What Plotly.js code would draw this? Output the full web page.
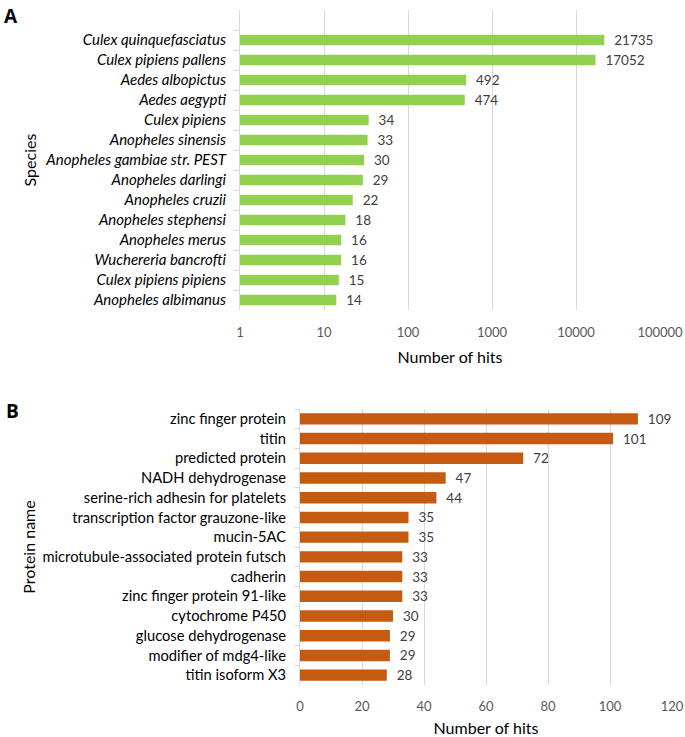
<!DOCTYPE html>
<html>
<head>
<meta charset="utf-8">
<script src="https://cdn.plot.ly/plotly-3.0.1.min.js"></script>
<style>html,body{margin:0;padding:0;background:#fff;}#chart{width:685px;height:737px;}</style>
</head>
<body>
<div id="chart"></div>
<script>
// Panel A data (top to bottom)
const speciesNames = [
  "Culex quinquefasciatus", "Culex pipiens pallens", "Aedes albopictus", "Aedes aegypti",
  "Culex pipiens", "Anopheles sinensis", "Anopheles gambiae str. PEST", "Anopheles darlingi",
  "Anopheles cruzii", "Anopheles stephensi", "Anopheles merus", "Wuchereria bancrofti",
  "Culex pipiens pipiens", "Anopheles albimanus"
];
const speciesHits = [21735, 17052, 492, 474, 34, 33, 30, 29, 22, 18, 16, 16, 15, 14];

// Panel B data (top to bottom)
const proteinNames = [
  "zinc finger protein", "titin", "predicted protein", "NADH dehydrogenase",
  "serine-rich adhesin for platelets", "transcription factor grauzone-like", "mucin-5AC",
  "microtubule-associated protein futsch", "cadherin", "zinc finger protein 91-like",
  "cytochrome P450", "glucose dehydrogenase", "modifier of mdg4-like", "titin isoform X3"
];
const proteinHits = [109, 101, 72, 47, 44, 35, 35, 33, 33, 33, 30, 29, 29, 28];

const logTicks = [1, 10, 100, 1000, 10000, 100000];
const linTicks = [0, 20, 40, 60, 80, 100, 120];

const FONT = "Lato, 'Open Sans', sans-serif";
const W = 685, H = 737;
const GRID = "#d9d9d9";
const PAD = "\u00a0\u00a0";

const spY = speciesNames.slice().reverse();
const spX = speciesHits.slice().reverse();
const prY = proteinNames.slice().reverse();
const prX = proteinHits.slice().reverse();

const traces = [
  {
    type: "bar", orientation: "h", x: spX, y: spY, xaxis: "x", yaxis: "y",
    marker: {color: "#92D050"}, width: 0.52,
    text: spX.map(v => PAD + v), textposition: "outside", cliponaxis: false, constraintext: "none",
    textfont: {family: FONT, size: 13.5, color: "#404040"},
    hoverinfo: "x+y"
  },
  {
    type: "bar", orientation: "h", x: prX, y: prY, xaxis: "x2", yaxis: "y2",
    marker: {color: "#C55A11"}, width: 0.58,
    text: prX.map(v => PAD + v), textposition: "outside", cliponaxis: false, constraintext: "none",
    textfont: {family: FONT, size: 13.5, color: "#404040"},
    hoverinfo: "x+y"
  }
];

const layout = {
  width: W, height: H,
  margin: {l: 0, r: 0, t: 0, b: 0},
  paper_bgcolor: "#fff", plot_bgcolor: "#fff",
  showlegend: false,
  font: {family: FONT, size: 14, color: "#000"},
  xaxis: {
    type: "log", domain: [240 / W, 660 / W], range: [0, 5], anchor: "y",
    tickvals: logTicks, ticktext: logTicks.map(String),
    showgrid: true, gridcolor: GRID, gridwidth: 1, zeroline: false, showline: false,
    ticks: "", ticklabelstandoff: 13, tickfont: {family: FONT, size: 13, color: "#595959"},
    title: {text: "Number of hits", font: {family: FONT, size: 16, color: "#000"}, standoff: 12}
  },
  yaxis: {
    type: "category", domain: [1 - 310 / H, 1 - 10 / H], anchor: "x",
    categoryorder: "array", categoryarray: spY, range: [-0.5, 14.5],
    tickson: "boundaries", ticks: "outside", ticklen: 5, tickcolor: GRID,
    showline: true, linecolor: GRID, linewidth: 1, showgrid: false,
    ticklabelstandoff: 10,
    tickfont: {family: FONT, size: 15, color: "#000", style: "italic"},
    title: {text: "Species", font: {family: FONT, size: 16, color: "#000"}, standoff: 4}
  },
  xaxis2: {
    type: "linear", domain: [300 / W, 672 / W], range: [0, 120], anchor: "y2",
    tickvals: linTicks, showgrid: true, gridcolor: GRID, gridwidth: 1, zeroline: false, showline: false,
    ticks: "", ticklabelstandoff: 12, tickfont: {family: FONT, size: 13, color: "#595959"},
    title: {text: "Number of hits", font: {family: FONT, size: 16, color: "#000"}, standoff: 13}
  },
  yaxis2: {
    type: "category", domain: [1 - 685 / H, 1 - 409 / H], anchor: "x2",
    categoryorder: "array", categoryarray: prY, range: [-0.5, 13.5],
    tickson: "boundaries", ticks: "outside", ticklen: 5, tickcolor: GRID,
    showline: true, linecolor: GRID, linewidth: 1, showgrid: false,
    ticklabelstandoff: 10,
    tickfont: {family: FONT, size: 14.7, color: "#000"},
    title: {text: "Protein name", font: {family: FONT, size: 16, color: "#000"}, standoff: 2}
  },
  annotations: [
    {text: "<b>A</b>", xref: "paper", yref: "paper", x: 2 / W, y: 1 - 1 / H, xanchor: "left", yanchor: "top",
     showarrow: false, font: {family: "'Open Sans', sans-serif", size: 19, color: "#000"}},
    {text: "<b>B</b>", xref: "paper", yref: "paper", x: 4 / W, y: 1 - 396 / H, xanchor: "left", yanchor: "top",
     showarrow: false, font: {family: "'Open Sans', sans-serif", size: 19, color: "#000"}}
  ]
};

Plotly.newPlot("chart", traces, layout, {displayModeBar: false, staticPlot: true});
</script>
</body>
</html>
